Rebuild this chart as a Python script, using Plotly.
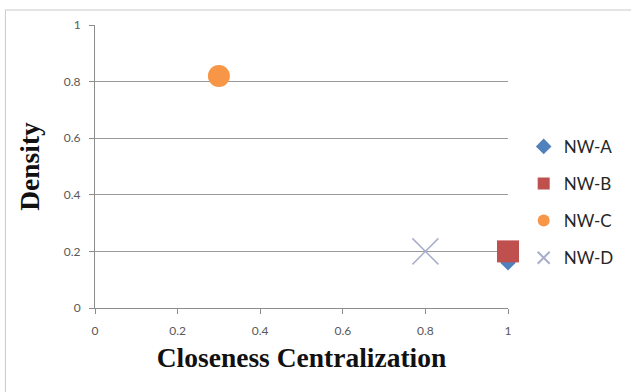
import plotly.graph_objects as go

series_names = ["NW-A", "NW-B", "NW-C", "NW-D"]
closeness = [1.0, 1.0, 0.3, 0.8]
density = [0.16, 0.2, 0.82, 0.2]
colors = ["#4F81BD", "#C0504D", "#F79646", "#A9AFCB"]
symbols = ["diamond", "square", "circle", "x-thin-open"]
sizes = [12, 22, 22, 26]
tick_vals = [0, 0.2, 0.4, 0.6, 0.8, 1]
tick_text = ["0", "0.2", "0.4", "0.6", "0.8", "1"]

fig = go.Figure()
for name, x, y, c, s, sz in zip(series_names, closeness, density, colors, symbols, sizes):
    line = dict(width=1.5, color=c) if "open" in s else dict(width=0)
    fig.add_trace(go.Scatter(
        x=[x], y=[y], mode="markers", name=name, legendgroup=name,
        marker=dict(symbol=s, size=sz, color=c, line=line),
        cliponaxis=False,
    ))

axis_font = dict(family="Lato, Open Sans, sans-serif", size=12, color="#595959")
title_font = dict(family="Liberation Serif, Times New Roman, serif", size=27.5, color="#111111")
fig.update_layout(
    width=631, height=392,
    margin=dict(l=95, r=121, t=25, b=84),
    paper_bgcolor="white", plot_bgcolor="white",
    showlegend=True,
    legend=dict(x=1.038, xanchor="left", y=0.633, yanchor="top",
                font=dict(family="Lato, Open Sans, sans-serif", size=17, color="#262626"),
                tracegroupgap=12, itemsizing="constant", bgcolor="rgba(0,0,0,0)"),
    xaxis=dict(range=[0, 1], tickvals=tick_vals, ticktext=tick_text,
               showgrid=False, zeroline=False, showline=True, linecolor="#8C8C8C", linewidth=1,
               ticks="outside", ticklen=5, tickcolor="#8C8C8C", tickfont=axis_font,
               ticklabelstandoff=7,
               title=dict(text="<b>Closeness Centralization</b>", font=title_font, standoff=10)),
    yaxis=dict(range=[0, 1], tickvals=tick_vals, ticktext=tick_text,
               showgrid=True, gridcolor="#9A9A9A", gridwidth=1,
               zeroline=False, showline=True, linecolor="#8C8C8C", linewidth=1,
               ticks="outside", ticklen=5, tickcolor="#8C8C8C", tickfont=axis_font,
               ticklabelstandoff=6,
               title=dict(text="<b>Density</b>", font=title_font, standoff=16)),
    shapes=[dict(type="rect", xref="paper", yref="paper",
                 x0=-0.217, x1=1.5, y0=-0.5, y1=1.053,
                 line=dict(color="#C8C8C8", width=1), layer="below")],
)

fig.write_html("out.html", config={"displayModeBar": False},
               post_script="document.body.style.margin='0';")
